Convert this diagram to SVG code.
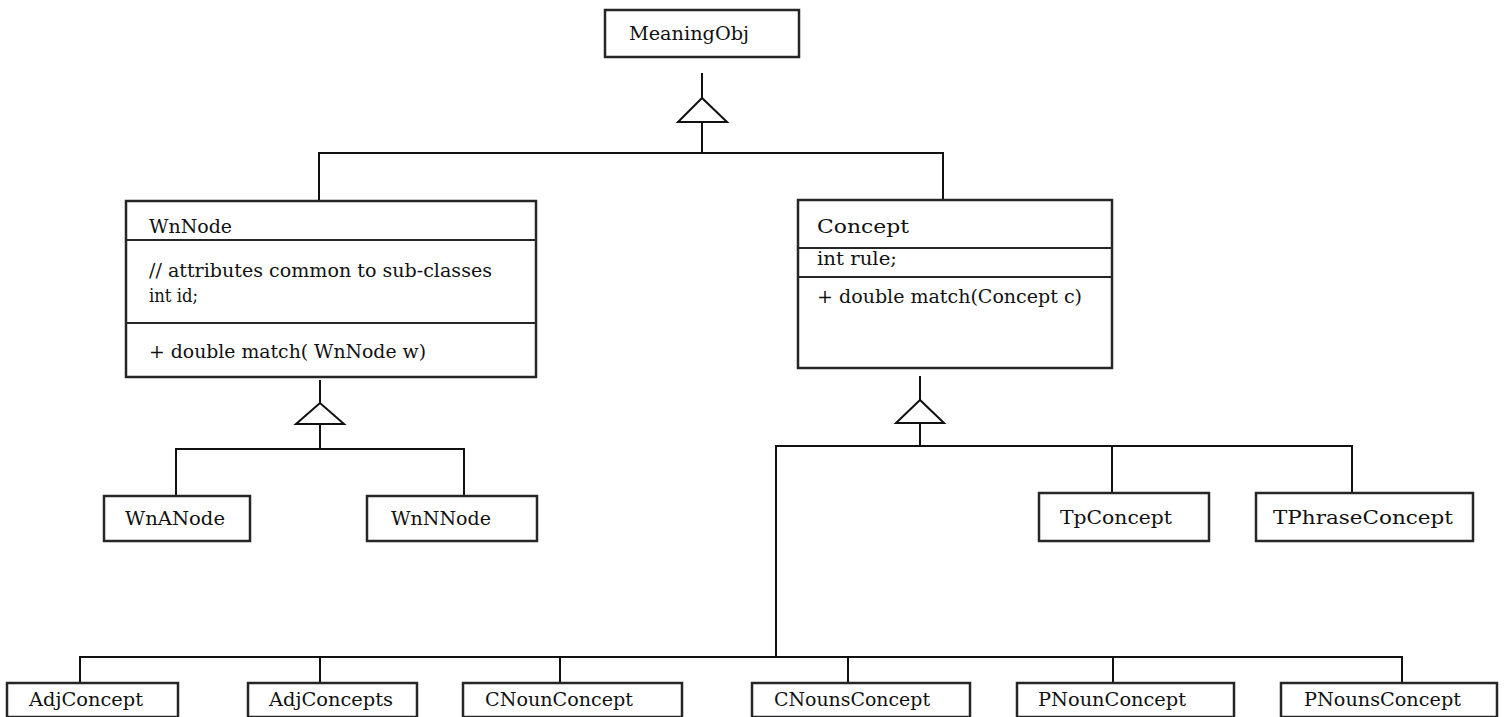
<svg xmlns="http://www.w3.org/2000/svg" width="1504" height="717" viewBox="0 0 1504 717">
<style>
.box{fill:#fff;stroke:#262626;stroke-width:2.5}
.sep{stroke:#262626;stroke-width:2}
.ln{fill:none;stroke:#111;stroke-width:2}
.tri{fill:#fff;stroke:#111;stroke-width:2}
text{font-family:"DejaVu Serif","Liberation Serif",serif;font-size:19px;fill:#111}
</style>
<rect width="1504" height="717" fill="#fff"/>
<g id="connectors">
<line class="ln" x1="702" y1="73" x2="702" y2="98"/>
<polyline class="ln" points="702,122 702,153"/>
<polyline class="ln" points="319,201 319,153 943,153 943,200"/>
<polygon class="tri" points="702,98 678,122 727,122"/>
<line class="ln" x1="320" y1="380" x2="320" y2="403"/>
<polyline class="ln" points="320,424 320,449"/>
<polyline class="ln" points="176,496 176,449 464,449 464,496"/>
<polygon class="tri" points="320,403 296,424 344,424"/>
<line class="ln" x1="920" y1="376" x2="920" y2="400"/>
<polyline class="ln" points="920,423 920,446"/>
<polyline class="ln" points="776,657 776,446 1352,446 1352,493"/>
<line class="ln" x1="1112" y1="446" x2="1112" y2="493"/>
<polygon class="tri" points="920,400 896,423 944,423"/>
<polyline class="ln" points="80,683 80,657 1402,657 1402,683"/>
<line class="ln" x1="320" y1="657" x2="320" y2="683"/>
<line class="ln" x1="560" y1="657" x2="560" y2="683"/>
<line class="ln" x1="848" y1="657" x2="848" y2="683"/>
<line class="ln" x1="1113" y1="657" x2="1113" y2="683"/>
</g>
<g id="MeaningObj">
<rect class="box" x="605" y="10" width="194" height="47"/>
<text x="629" y="40" textLength="120" lengthAdjust="spacingAndGlyphs">MeaningObj</text>
</g>
<g id="WnNode">
<rect class="box" x="126" y="201" width="410" height="176"/>
<line class="sep" x1="126" y1="240" x2="536" y2="240"/>
<line class="sep" x1="126" y1="323" x2="536" y2="323"/>
<text x="149" y="233" textLength="83" lengthAdjust="spacingAndGlyphs">WnNode</text>
<text x="149" y="277" textLength="343" lengthAdjust="spacingAndGlyphs">// attributes common to sub-classes</text>
<text x="149" y="302" textLength="49" lengthAdjust="spacingAndGlyphs">int id;</text>
<text x="149" y="358" textLength="277" lengthAdjust="spacingAndGlyphs">+ double match( WnNode w)</text>
</g>
<g id="Concept">
<rect class="box" x="798" y="200" width="314" height="168"/>
<line class="sep" x1="798" y1="248" x2="1112" y2="248"/>
<line class="sep" x1="798" y1="277" x2="1112" y2="277"/>
<text x="817" y="233" textLength="92" lengthAdjust="spacingAndGlyphs">Concept</text>
<text x="817" y="265" textLength="80" lengthAdjust="spacingAndGlyphs">int rule;</text>
<text x="817" y="303" textLength="265" lengthAdjust="spacingAndGlyphs">+ double match(Concept c)</text>
</g>
<g id="WnANode">
<rect class="box" x="104" y="496" width="146" height="45"/>
<text x="125" y="525" textLength="100" lengthAdjust="spacingAndGlyphs">WnANode</text>
</g>
<g id="WnNNode">
<rect class="box" x="367" y="496" width="170" height="45"/>
<text x="391" y="525" textLength="100" lengthAdjust="spacingAndGlyphs">WnNNode</text>
</g>
<g id="TpConcept">
<rect class="box" x="1039" y="493" width="170" height="48"/>
<text x="1060" y="524" textLength="112" lengthAdjust="spacingAndGlyphs">TpConcept</text>
</g>
<g id="TPhraseConcept">
<rect class="box" x="1256" y="493" width="217" height="48"/>
<text x="1273" y="524" textLength="180" lengthAdjust="spacingAndGlyphs">TPhraseConcept</text>
</g>
<g id="AdjConcept">
<rect class="box" x="7" y="683" width="171" height="34"/>
<text x="29" y="706" textLength="114" lengthAdjust="spacingAndGlyphs">AdjConcept</text>
</g>
<g id="AdjConcepts">
<rect class="box" x="248" y="683" width="169" height="34"/>
<text x="269" y="706" textLength="124" lengthAdjust="spacingAndGlyphs">AdjConcepts</text>
</g>
<g id="CNounConcept">
<rect class="box" x="463" y="683" width="219" height="34"/>
<text x="485" y="706" textLength="148" lengthAdjust="spacingAndGlyphs">CNounConcept</text>
</g>
<g id="CNounsConcept">
<rect class="box" x="752" y="683" width="218" height="34"/>
<text x="774" y="706" textLength="156" lengthAdjust="spacingAndGlyphs">CNounsConcept</text>
</g>
<g id="PNounConcept">
<rect class="box" x="1017" y="683" width="217" height="34"/>
<text x="1038" y="706" textLength="148" lengthAdjust="spacingAndGlyphs">PNounConcept</text>
</g>
<g id="PNounsConcept">
<rect class="box" x="1281" y="683" width="216" height="34"/>
<text x="1304" y="706" textLength="157" lengthAdjust="spacingAndGlyphs">PNounsConcept</text>
</g>
</svg>
